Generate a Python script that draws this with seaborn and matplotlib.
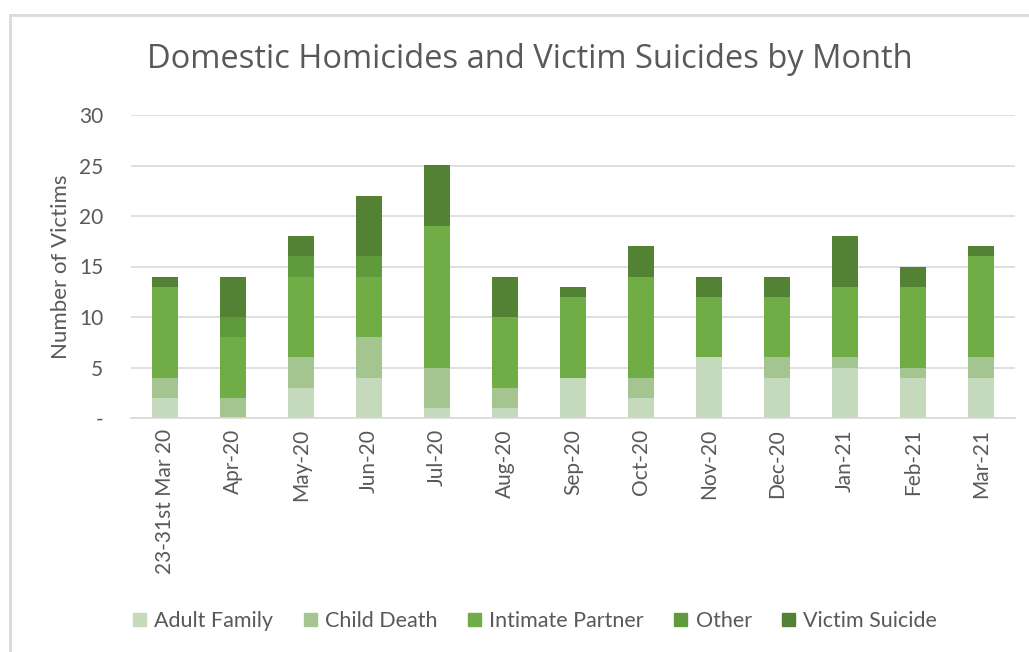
import matplotlib
matplotlib.use("Agg")
import matplotlib.pyplot as plt
import matplotlib.patches as mpatches
import numpy as np
import seaborn as sns

months = ["23-31st Mar 20", "Apr-20", "May-20", "Jun-20", "Jul-20", "Aug-20", "Sep-20",
          "Oct-20", "Nov-20", "Dec-20", "Jan-21", "Feb-21", "Mar-21"]
adult_family = [2, 0, 3, 4, 1, 1, 4, 2, 6, 4, 5, 4, 4]
child_death = [2, 2, 3, 4, 4, 2, 0, 2, 0, 2, 1, 1, 2]
intimate_partner = [9, 6, 8, 6, 14, 7, 8, 10, 6, 6, 7, 8, 10]
other = [0, 2, 2, 2, 0, 0, 0, 0, 0, 0, 0, 0, 0]
victim_suicide = [1, 4, 2, 6, 6, 4, 1, 3, 2, 2, 5, 2, 1]

series_names = ["Adult Family", "Child Death", "Intimate Partner", "Other", "Victim Suicide"]
series_values = [adult_family, child_death, intimate_partner, other, victim_suicide]
colors = ["#C5D9BC", "#A4C490", "#70AD47", "#5F9A3D", "#548235"]

sns.set_theme(style="white")
plt.rcParams['font.family'] = ['Lato', 'DejaVu Sans']

fig = plt.figure(figsize=(10.29, 6.52), dpi=100)
ax = fig.add_axes([131/1029, 1-418/652, (1015-131)/1029, (418-115)/652])

bottom = np.zeros(len(months))
for name, vals, col in zip(series_names, series_values, colors):
    sns.barplot(x=months, y=vals, bottom=bottom, color=col, width=0.39,
                ax=ax, saturation=1, linewidth=0)
    bottom += np.array(vals)

ax.set_ylim(0, 30)
ax.set_yticks(range(0, 31, 5))
ax.set_yticklabels(["-"] + [str(v) for v in range(5, 31, 5)])
ax.set_xlim(-0.5, len(months) - 0.5)
ax.yaxis.grid(True, color="#D9D9D9", linewidth=1.2)
ax.set_axisbelow(True)
for s in ["top", "right", "left"]:
    ax.spines[s].set_visible(False)
ax.spines["bottom"].set_color("#D9D9D9")
ax.spines["bottom"].set_linewidth(1.2)
ax.tick_params(axis="both", length=0, colors="#595959", labelsize=15)
ax.tick_params(axis="y", pad=20)
ax.tick_params(axis="x", pad=8)
plt.setp(ax.get_xticklabels(), rotation=90)
ax.set_ylabel("Number of Victims", fontsize=16, color="#595959", labelpad=6)
ax.set_xlabel("")

fig.text(0.515, 1-60/652, "Domestic Homicides and Victim Suicides by Month",
         ha="center", va="center", fontsize=23.5, color="#595959", family=["Open Sans", "DejaVu Sans"])

handles = [mpatches.Patch(color=c, label=n) for n, c in zip(series_names, colors)]
fig.legend(handles=handles, loc="center", bbox_to_anchor=(0.52, 1-621/652), ncol=5,
           frameon=False, fontsize=15.5, handlelength=0.6, handleheight=0.6,
           handletextpad=0.4, columnspacing=1.4, labelcolor="#595959")

border = mpatches.Rectangle((10/1029, -0.1), 1.2, 1 - 15/652 + 0.1, transform=fig.transFigure,
                            fill=False, edgecolor="#D9D9D9", linewidth=2)
fig.patches.append(border)

fig.savefig("out.png", dpi=100)
